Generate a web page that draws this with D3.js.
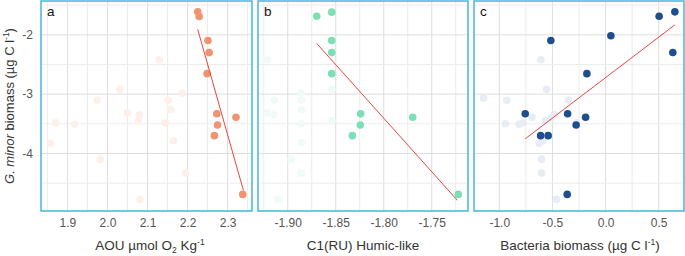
<!DOCTYPE html>
<html>
<head>
<meta charset="utf-8">
<script src="https://cdn.jsdelivr.net/npm/d3@7"></script>
<style>
  body { margin: 0; background: #fff; }
  text { font-family: 'Liberation Sans', Arial, sans-serif; }
</style>
</head>
<body>
<script>
const width = 685
const height = 256

// G. minor biomass (y, log) shared domain
const yDomain = [-4.97, -1.43]
const yTicks = [-2, -3, -4]
const yMinor = [-1.5, -2.5, -3.5, -4.5]

// panel a: AOU
const aHiX = [2.2255, 2.229, 2.251, 2.254, 2.249, 2.273, 2.275, 2.267, 2.321, 2.338]
const aHiY = [-1.613, -1.692, -2.096, -2.30, -2.655, -3.33, -3.52, -3.70, -3.39, -4.69]
const aLoX = [1.858, 1.8705, 1.918, 1.974, 1.982, 2.0305, 2.0495, 2.0795, 2.077, 2.081, 2.1295, 2.152, 2.157, 2.144, 2.1645, 2.187, 2.1955]
const aLoY = [-3.827, -3.484, -3.508, -3.104, -4.096, -2.919, -3.316, -3.35, -3.45, -4.773, -2.42, -3.104, -3.26, -3.484, -3.787, -2.987, -4.331]
const aFitX = [2.2255, 2.3395]
const aFitY = [-1.911, -4.622]
const aTicks = [1.9, 2.0, 2.1, 2.2, 2.3]
const aMinor = [1.85, 1.95, 2.05, 2.15, 2.25, 2.35]

// panel b: C1(RU) humic-like
const bHiX = [-1.8698, -1.8542, -1.8542, -1.8542, -1.8542, -1.824, -1.8244, -1.8327, -1.7698, -1.7223]
const bHiY = [-1.686, -1.618, -2.096, -2.30, -2.655, -3.33, -3.52, -3.70, -3.39, -4.69]
const bLoX = [-1.9213, -1.914, -1.9213, -1.914, -1.886, -1.886, -1.886, -1.886, -1.886, -1.8966, -1.886, -1.910, -1.854, -1.854]
const bLoY = [-2.42, -3.104, -3.316, -3.35, -2.98, -3.104, -3.26, -3.496, -3.815, -4.096, -4.331, -4.773, -2.919, -3.45]
const bFitX = [-1.8698, -1.7233]
const bFitY = [-2.146, -4.79]
const bTicks = [-1.90, -1.85, -1.80, -1.75]
const bMinor = [-1.925, -1.875, -1.825, -1.775, -1.725]

// panel c: bacteria biomass
const cHiX = [0.504, 0.652, 0.050, 0.633, -0.515, -0.176, -0.756, -0.357, -0.188, -0.277, -0.611, -0.540, -0.361]
const cHiY = [-1.686, -1.613, -2.017, -2.297, -2.096, -2.655, -3.33, -3.33, -3.39, -3.52, -3.70, -3.70, -4.69]
const cLoX = [-1.148, -0.929, -0.941, -0.813, -0.775, -0.693, -0.609, -0.555, -0.568, -0.508, -0.480, -0.348, -0.273, -0.625, -0.590, -0.602, -0.602, -0.461]
const cLoY = [-3.07, -3.104, -3.50, -3.508, -3.484, -3.39, -2.42, -2.919, -3.445, -3.40, -3.35, -3.104, -3.484, -3.827, -3.787, -4.096, -4.331, -4.773]
const cFitX = [-0.756, 0.652]
const cFitY = [-3.753, -1.832]
const cTicks = [-1.0, -0.5, 0.0, 0.5]
const cMinor = [-0.75, -0.25, 0.25]

const plotTop = 1
const plotBottom = 211

const svg = d3.select('body')
  .append('svg')
  .attr('width', width)
  .attr('height', height)

const y = d3.scaleLinear().domain(yDomain).range([plotBottom, plotTop])

const panels = [
  {id: 'a', left: 41, right: 252, domain: [1.834, 2.361], hiX: aHiX, hiY: aHiY, loX: aLoX, loY: aLoY,
    fitX: aFitX, fitY: aFitY, ticks: aTicks, minor: aMinor, fmt: '.1f', hi: '#ef9370', lo: '#fdf0eb'},
  {id: 'b', left: 258, right: 468, domain: [-1.931, -1.7122], hiX: bHiX, hiY: bHiY, loX: bLoX, loY: bLoY,
    fitX: bFitX, fitY: bFitY, ticks: bTicks, minor: bMinor, fmt: '.2f', hi: '#7ddfb6', lo: '#f0faf6'},
  {id: 'c', left: 474, right: 684, domain: [-1.238, 0.738], hiX: cHiX, hiY: cHiY, loX: cLoX, loY: cLoY,
    fitX: cFitX, fitY: cFitY, ticks: cTicks, minor: cMinor, fmt: '.1f', hi: '#1f4e8e', lo: '#e8ecf3'}
]

panels.forEach((p) => {
  const x = d3.scaleLinear().domain(p.domain).range([p.left, p.right])
  const g = svg.append('g')

  // grid
  g.selectAll('.vminor').data(p.minor).enter().append('line')
    .attr('x1', (d) => x(d)).attr('x2', (d) => x(d))
    .attr('y1', plotTop).attr('y2', plotBottom)
    .attr('stroke', '#ececec')
  g.selectAll('.vmajor').data(p.ticks).enter().append('line')
    .attr('x1', (d) => x(d)).attr('x2', (d) => x(d))
    .attr('y1', plotTop).attr('y2', plotBottom)
    .attr('stroke', '#dedede')
  g.selectAll('.hminor').data(yMinor).enter().append('line')
    .attr('x1', p.left).attr('x2', p.right)
    .attr('y1', (d) => y(d)).attr('y2', (d) => y(d))
    .attr('stroke', '#ececec')
  g.selectAll('.hmajor').data(yTicks).enter().append('line')
    .attr('x1', p.left).attr('x2', p.right)
    .attr('y1', (d) => y(d)).attr('y2', (d) => y(d))
    .attr('stroke', '#dedede')

  // faded points, then highlighted
  g.selectAll('.lo').data(p.loX).enter().append('circle')
    .attr('cx', (d) => x(d))
    .attr('cy', (d, i) => y(p.loY[i]))
    .attr('r', 3.8)
    .attr('fill', p.lo)
  g.selectAll('.hi').data(p.hiX).enter().append('circle')
    .attr('cx', (d) => x(d))
    .attr('cy', (d, i) => y(p.hiY[i]))
    .attr('r', 3.8)
    .attr('fill', p.hi)

  // regression line
  g.append('path')
    .datum(p.fitX.map((d, i) => [d, p.fitY[i]]))
    .attr('d', d3.line().x((d) => x(d[0])).y((d) => y(d[1])))
    .attr('fill', 'none')
    .attr('stroke', '#e8473f')
    .attr('stroke-width', 1)

  // frame
  g.append('rect')
    .attr('x', p.left).attr('y', plotTop)
    .attr('width', p.right - p.left).attr('height', plotBottom - plotTop)
    .attr('fill', 'none')
    .attr('stroke', '#45b7da')
    .attr('stroke-width', 1.5)

  g.append('text')
    .attr('x', p.left + 6).attr('y', plotTop + 15)
    .attr('font-size', 13.5)
    .attr('fill', '#111')
    .text(p.id)

  // x tick labels
  const f = d3.format(p.fmt)
  g.append('g')
    .attr('transform', `translate(0, ${plotBottom})`)
    .call(d3.axisBottom(x).tickValues(p.ticks).tickSize(0).tickPadding(7)
      .tickFormat((d) => f(d).replace('\u2212', '-')))
    .call((a) => a.select('.domain').remove())
    .selectAll('text')
    .attr('font-size', 12)
    .attr('fill', '#555')
    .style('font-family', "'Liberation Sans', Arial, sans-serif")
})

// y tick labels
svg.append('g')
  .attr('transform', 'translate(41, 0)')
  .call(d3.axisLeft(y).tickValues(yTicks).tickSize(0).tickPadding(8)
    .tickFormat((d) => String(d)))
  .call((a) => a.select('.domain').remove())
  .selectAll('text')
  .attr('font-size', 12)
  .attr('fill', '#555')
  .style('font-family', "'Liberation Sans', Arial, sans-serif")

// axis titles
const titleY = 250
const ta = svg.append('text')
  .attr('x', 150).attr('y', titleY)
  .attr('text-anchor', 'middle')
  .attr('font-size', 13.5).attr('fill', '#333')
ta.append('tspan').text('AOU µmol O')
ta.append('tspan').attr('font-size', 8.5).attr('dy', 3).text('2')
ta.append('tspan').attr('dy', -3).text(' Kg')
ta.append('tspan').attr('font-size', 8.5).attr('dy', -5).text('-1')

svg.append('text')
  .attr('x', 363).attr('y', titleY)
  .attr('text-anchor', 'middle')
  .attr('font-size', 13.5).attr('fill', '#333')
  .text('C1(RU) Humic-like')

const tc = svg.append('text')
  .attr('x', 580).attr('y', titleY)
  .attr('text-anchor', 'middle')
  .attr('font-size', 13.5).attr('fill', '#333')
tc.append('tspan').text('Bacteria biomass (µg C l')
tc.append('tspan').attr('font-size', 8.5).attr('dy', -5).text('-1')
tc.append('tspan').attr('dy', 5).text(')')

const tyl = svg.append('text')
  .attr('transform', 'translate(14, 106) rotate(-90)')
  .attr('text-anchor', 'middle')
  .attr('font-size', 13).attr('fill', '#333')
tyl.append('tspan').attr('font-style', 'italic').text('G. minor')
tyl.append('tspan').text(' biomass (µg C l')
tyl.append('tspan').attr('font-size', 8.5).attr('dy', -5).text('-1')
tyl.append('tspan').attr('dy', 5).text(')')
</script>
</body>
</html>
